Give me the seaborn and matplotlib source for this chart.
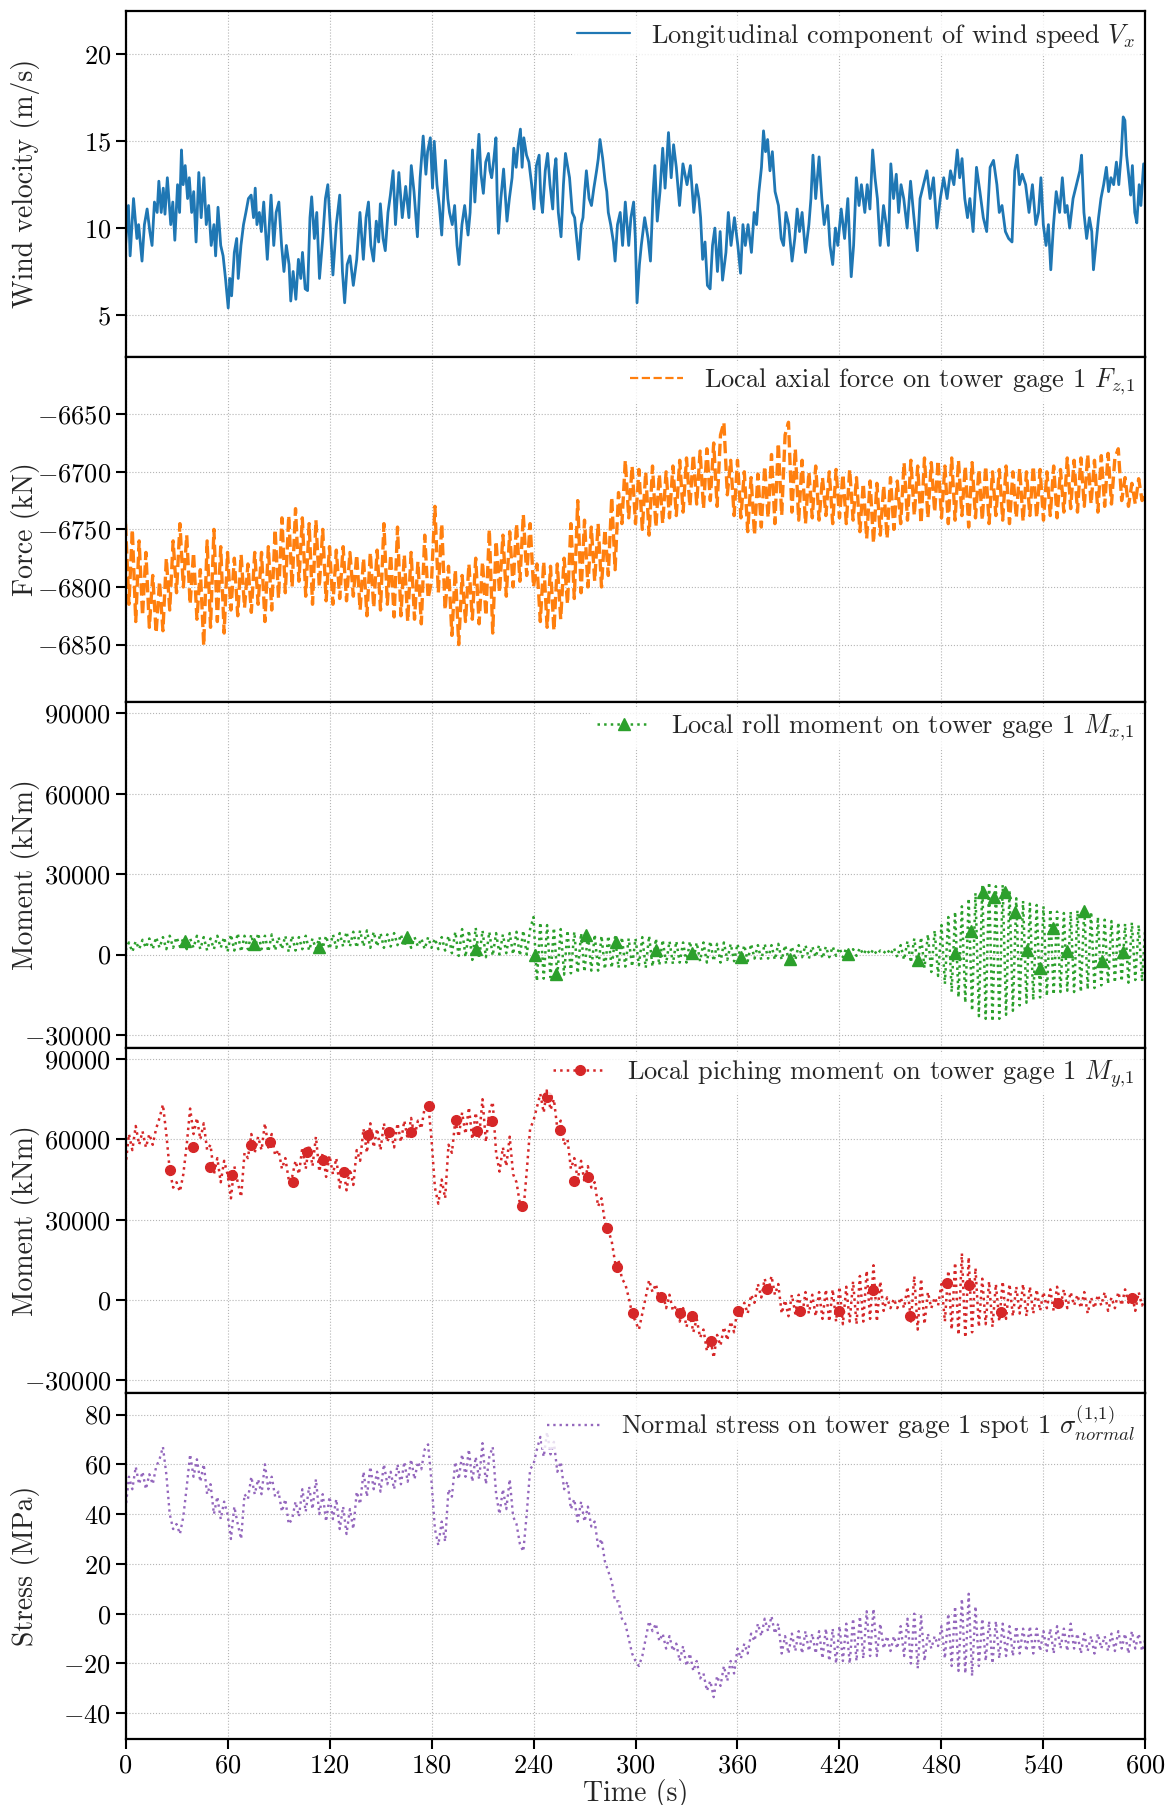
import numpy as np
import pandas as pd
import seaborn as sns
import matplotlib
matplotlib.use("Agg")
import matplotlib.pyplot as plt
from matplotlib.lines import Line2D

# ---------------- data ----------------
# Panel 1: longitudinal wind speed (time s, value m/s)
wind_t = [0, 1.7, 2.7, 4.7, 6.7, 7.7, 9.7, 11.1, 12.7, 14.3, 15.6, 17.0, 18.6, 19.6, 21.0, 22.2, 23.2, 24.6, 26.6, 27.8,
          29.0, 30.6, 31.8, 32.9, 33.9, 35.1, 36.5, 37.5, 38.9, 40.1, 41.5, 43.1, 44.5, 46.1, 47.5, 48.9, 50.4, 52.0, 53.0, 54.4,
          56.0, 57.4, 58.8, 60.4, 61.4, 62.4, 64.0, 65.4, 66.3, 67.9, 69.4, 70.8, 72.3, 73.9, 75.3, 76.3, 77.3, 78.7, 79.9, 81.3,
          83.4, 85.6, 87.2, 88.6, 90.2, 91.8, 93.2, 94.6, 96.2, 97.2, 98.6, 100.2, 101.7, 103.1, 104.1, 105.7, 107.1, 108.5, 109.5, 111.1,
          112.5, 114.1, 116.0, 117.6, 119.0, 120.4, 122.0, 124.0, 126.0, 127.6, 128.9, 130.4, 132.0, 134.0, 136.0, 137.9, 139.9, 141.5, 142.9, 144.3,
          145.9, 147.5, 148.9, 149.9, 151.5, 152.8, 154.4, 155.8, 157.4, 158.8, 160.8, 162.8, 164.8, 166.7, 168.1, 169.7, 171.7, 173.3, 175.1, 176.7,
          177.7, 179.3, 180.6, 181.6, 183.2, 184.6, 186.0, 188.2, 189.6, 190.6, 192.2, 193.6, 195.0, 196.2, 197.9, 199.5, 201.5, 202.7, 204.1, 205.5,
          206.7, 207.9, 209.1, 210.5, 211.9, 213.5, 214.4, 215.4, 216.7, 217.9, 218.6, 219.4, 220.8, 222.4, 224.4, 225.8, 227.4, 228.4, 229.8, 231.0,
          232.3, 233.3, 234.3, 235.9, 237.3, 238.9, 240.3, 241.7, 243.3, 244.3, 245.3, 246.9, 248.3, 249.7, 251.3, 252.3, 253.2, 254.6, 256.2, 257.6,
          258.8, 260.2, 261.2, 262.8, 264.2, 266.6, 268.1, 269.1, 270.1, 271.1, 272.7, 274.1, 275.5, 277.1, 278.1, 279.1, 280.7, 282.1, 283.1, 284.0,
          285.4, 287.0, 288.0, 289.4, 291.0, 292.4, 294.0, 296.0, 297.3, 298.9, 299.9, 300.9, 302.3, 303.4, 305.4, 307.4, 308.8, 310.4, 311.4, 312.8,
          314.4, 316.0, 317.4, 319.4, 321.0, 322.4, 324.0, 325.9, 327.9, 330.3, 332.3, 334.3, 335.9, 337.3, 338.3, 339.5, 340.9, 342.3, 343.9, 345.3,
          346.7, 348.2, 349.8, 351.2, 353.2, 354.6, 356.2, 358.2, 360.2, 361.8, 363.2, 364.6, 366.2, 368.2, 369.8, 371.2, 372.5, 374.1, 375.3, 376.5,
          377.7, 379.1, 380.5, 382.1, 384.1, 385.7, 387.1, 388.5, 390.1, 392.1, 393.7, 395.1, 396.5, 398.0, 400.0, 402.0, 403.2, 404.4, 406.0, 408.0,
          409.6, 411.0, 413.0, 414.4, 416.0, 417.6, 419.0, 421.0, 423.0, 424.9, 426.9, 428.3, 429.9, 431.5, 432.9, 434.9, 436.3, 437.9, 439.5, 440.9,
          442.3, 443.9, 445.9, 447.5, 448.8, 450.2, 451.8, 453.4, 454.8, 456.2, 457.8, 459.8, 461.8, 463.8, 465.8, 467.4, 469.4, 471.4, 473.3, 475.3,
          477.3, 479.3, 481.3, 483.3, 485.3, 487.3, 489.3, 490.7, 492.1, 493.7, 495.3, 496.7, 498.6, 500.6, 502.6, 504.6, 506.6, 508.6, 510.6, 512.6,
          514.0, 515.6, 517.6, 519.5, 521.5, 523.1, 524.5, 525.9, 527.5, 529.5, 531.5, 533.5, 535.5, 537.1, 538.5, 539.9, 541.5, 542.9, 544.3, 545.9,
          547.5, 549.5, 551.1, 552.7, 553.9, 555.4, 557.4, 559.4, 561.4, 562.4, 563.8, 565.4, 567.0, 568.4, 569.4, 571.0, 572.4, 573.8, 575.4, 577.0,
          578.3, 579.7, 581.3, 582.9, 584.3, 585.7, 586.9, 587.9, 588.9, 590.3, 591.3, 592.3, 593.7, 594.9, 596.3, 597.3, 598.9, 600.0]
wind_v = [9.0, 11.3, 8.4, 11.7, 9.4, 10.2, 8.1, 10.2, 11.1, 9.8, 9.0, 11.5, 10.9, 12.7, 10.9, 12.3, 10.8, 12.9, 10.2, 11.5,
          9.3, 12.5, 10.9, 14.5, 12.5, 13.6, 11.7, 12.9, 10.9, 12.1, 9.2, 13.2, 10.6, 12.9, 10.2, 11.3, 9.0, 10.2, 8.4, 11.2,
          9.0, 8.4, 7.1, 5.4, 7.1, 6.1, 8.6, 9.4, 7.1, 9.0, 10.2, 10.9, 11.7, 11.9, 10.6, 12.3, 10.2, 10.9, 9.8, 11.5,
          8.2, 11.9, 9.0, 10.9, 11.5, 9.0, 7.5, 9.0, 7.9, 5.8, 7.5, 5.9, 8.2, 7.1, 8.6, 6.5, 6.4, 10.6, 11.8, 9.4,
          10.9, 7.1, 9.4, 11.7, 12.5, 10.2, 7.3, 10.2, 11.9, 7.5, 5.7, 7.9, 8.4, 6.7, 8.2, 10.9, 8.2, 10.6, 11.5, 9.0,
          8.1, 10.4, 9.2, 11.4, 9.4, 8.7, 10.9, 11.9, 13.3, 10.2, 13.2, 10.6, 12.4, 10.6, 13.6, 12.1, 9.5, 12.9, 15.3, 13.1,
          14.4, 15.2, 12.3, 15.0, 12.5, 11.3, 9.6, 13.9, 11.7, 10.9, 10.2, 11.3, 9.0, 7.9, 10.2, 11.3, 9.6, 10.9, 14.5, 11.5,
          13.6, 15.4, 13.1, 12.0, 13.8, 14.3, 13.3, 12.9, 14.0, 15.2, 11.9, 9.7, 11.7, 13.4, 10.4, 11.7, 12.9, 14.6, 13.5, 14.8,
          15.7, 13.5, 15.2, 14.2, 13.8, 12.5, 11.1, 13.6, 14.2, 11.7, 10.9, 13.3, 14.3, 12.5, 11.1, 13.3, 14.0, 10.9, 9.5, 12.5,
          14.3, 13.5, 12.9, 10.9, 10.6, 8.2, 10.2, 10.6, 12.1, 13.3, 11.7, 11.3, 12.3, 13.3, 14.0, 15.1, 14.0, 12.7, 12.1, 10.9,
          10.2, 9.2, 8.1, 10.2, 10.9, 9.0, 11.5, 9.0, 10.6, 11.5, 9.4, 5.7, 7.9, 9.0, 10.6, 9.4, 8.1, 12.1, 13.6, 10.4,
          12.1, 14.6, 12.3, 15.5, 12.9, 14.8, 13.5, 11.3, 13.7, 12.5, 13.6, 10.9, 12.5, 11.7, 10.6, 8.2, 9.2, 6.7, 6.5, 9.0,
          10.0, 7.5, 9.8, 7.0, 8.6, 10.9, 9.0, 10.6, 9.0, 7.4, 10.2, 9.0, 10.2, 8.6, 10.9, 10.2, 12.0, 13.5, 15.6, 14.4,
          15.1, 13.3, 14.4, 12.1, 11.3, 9.4, 9.0, 10.9, 10.2, 8.1, 9.4, 11.1, 9.8, 10.9, 8.6, 10.2, 11.7, 14.2, 11.7, 14.1,
          11.7, 10.2, 11.3, 9.0, 7.9, 10.0, 9.0, 11.1, 9.4, 11.7, 7.2, 9.0, 12.9, 11.3, 12.5, 10.9, 12.5, 11.1, 14.5, 12.9,
          11.7, 9.0, 11.3, 10.2, 9.0, 13.7, 11.7, 13.1, 10.9, 12.5, 11.7, 10.0, 12.7, 10.6, 8.7, 11.7, 12.5, 13.3, 11.7, 12.9,
          10.0, 11.7, 12.9, 11.7, 13.3, 12.5, 14.5, 12.9, 14.0, 11.7, 10.6, 11.7, 9.8, 13.5, 12.1, 10.6, 9.8, 13.5, 13.9, 12.5,
          10.9, 11.3, 9.8, 9.4, 9.2, 13.3, 14.2, 12.5, 13.1, 12.5, 10.9, 12.5, 10.2, 10.9, 12.9, 10.2, 9.0, 10.2, 7.6, 10.2,
          12.1, 10.9, 12.9, 10.9, 11.3, 10.0, 11.7, 12.5, 13.3, 14.2, 10.9, 9.4, 10.6, 9.8, 7.6, 9.2, 10.6, 11.7, 12.5, 13.5,
          12.1, 12.9, 12.5, 13.8, 12.5, 14.2, 16.4, 16.2, 14.2, 12.9, 11.9, 13.6, 10.9, 10.3, 12.5, 11.3, 13.7, 12.9]

# Panels 2-5 are sampled every 2 s from 0 to 600 s
sample_t = list(range(0, 601, 2))

# Panel 2: local axial force (kN)
axial_force = [
    -6745, -6815, -6750, -6830, -6760, -6825, -6770, -6835, -6790, -6840,
    -6795, -6838, -6775, -6820, -6760, -6805, -6745, -6800, -6755, -6815,
    -6770, -6828, -6785, -6851, -6760, -6835, -6750, -6830, -6765, -6840,
    -6770, -6820, -6775, -6825, -6772, -6818, -6780, -6822, -6770, -6815,
    -6770, -6830, -6765, -6820, -6750, -6810, -6740, -6805, -6738, -6800,
    -6732, -6795, -6740, -6808, -6745, -6815, -6742, -6800, -6750, -6812,
    -6765, -6815, -6768, -6810, -6765, -6812, -6770, -6808, -6772, -6820,
    -6775, -6825, -6770, -6818, -6768, -6820, -6745, -6815, -6772, -6826,
    -6748, -6825, -6772, -6830, -6770, -6828, -6778, -6832, -6755, -6810,
    -6795, -6730, -6805, -6745, -6820, -6782, -6842, -6785, -6850, -6790,
    -6830, -6780, -6828, -6775, -6832, -6778, -6825, -6750, -6840, -6760,
    -6805, -6755, -6808, -6752, -6800, -6745, -6795, -6737, -6790, -6745,
    -6800, -6780, -6830, -6778, -6835, -6782, -6838, -6780, -6828, -6775,
    -6815, -6745, -6810, -6725, -6805, -6742, -6800, -6748, -6795, -6745,
    -6800, -6750, -6790, -6722, -6785, -6718, -6745, -6690, -6740, -6695,
    -6745, -6698, -6750, -6700, -6755, -6695, -6748, -6702, -6745, -6700,
    -6740, -6695, -6738, -6690, -6735, -6688, -6730, -6685, -6728, -6682,
    -6732, -6680, -6725, -6675, -6730, -6668, -6657, -6720, -6690, -6738,
    -6690, -6740, -6700, -6752, -6705, -6755, -6702, -6748, -6695, -6740,
    -6685, -6745, -6675, -6738, -6668, -6657, -6735, -6680, -6742, -6690,
    -6745, -6700, -6740, -6695, -6742, -6705, -6738, -6700, -6745, -6698,
    -6740, -6702, -6745, -6698, -6742, -6705, -6752, -6710, -6758, -6708,
    -6762, -6710, -6755, -6712, -6758, -6705, -6750, -6708, -6745, -6692,
    -6742, -6690, -6738, -6695, -6745, -6688, -6740, -6692, -6735, -6690,
    -6740, -6695, -6745, -6688, -6742, -6690, -6738, -6695, -6748, -6692,
    -6740, -6698, -6742, -6695, -6745, -6700, -6738, -6698, -6742, -6695,
    -6745, -6700, -6740, -6697, -6743, -6700, -6738, -6695, -6740, -6698,
    -6742, -6700, -6738, -6695, -6740, -6698, -6735, -6688, -6732, -6690,
    -6735, -6688, -6730, -6685, -6728, -6690, -6735, -6686, -6730, -6684,
    -6728, -6688, -6680, -6725, -6705, -6730, -6710, -6728, -6706, -6725,
    -6715]

# Panel 3: local roll moment (thousands of kNm)
roll_moment_k = [
    1.5, 4.5, 1.0, 5.0, 2.0, 5.5, 2.5, 6.0, 2.0, 6.5,
    2.5, 6.5, 2.0, 7.0, 2.5, 6.5, 3.0, 6.0, 2.0, 6.0,
    2.5, 7.0, 2.0, 6.5, 1.5, 6.0, 2.0, 7.0, 2.5, 6.5,
    1.0, 7.5, 1.5, 8.0, 1.0, 7.0, 2.0, 7.5, 1.5, 8.0,
    2.0, 7.0, 1.0, 7.5, 1.5, 6.5, 2.0, 7.0, 1.0, 7.0,
    1.5, 6.5, 2.0, 7.0, 1.5, 6.0, 2.0, 6.5, 2.5, 7.0,
    2.0, 7.5, 2.5, 8.0, 3.0, 8.5, 3.0, 8.5, 2.5, 9.0,
    3.0, 9.0, 2.5, 8.5, 3.0, 8.0, 2.5, 7.5, 3.0, 8.0,
    3.5, 7.5, 3.0, 7.0, 2.5, 6.5, 3.0, 6.0, 2.0, 6.5,
    2.5, 6.0, 2.0, 6.5, 1.5, 7.0, 0.5, 8.5, -0.5, 9.5,
    -1.0, 9.0, -2.0, 10.0, -1.5, 9.0, -1.0, 8.5, -0.5, 8.0,
    0.0, 7.5, 0.5, 8.0, 0.0, 8.5, -0.5, 9.0, 0.0, 9.5,
    14.0, -10.0, 12.0, -9.0, 11.0, -8.5, 10.0, -8.0, 9.5, -7.5,
    9.0, -7.0, 8.5, -7.0, 8.0, -6.5, 8.0, -6.0, 7.5, -6.0,
    7.0, -5.5, 7.0, -5.0, 6.5, -5.0, 6.5, -4.5, 6.0, -4.5,
    6.0, -4.0, 6.5, -5.0, 7.0, -4.5, 6.0, -4.0, 5.5, -3.5,
    5.0, -3.5, 5.0, -3.0, 4.5, -3.0, 5.0, -2.5, 4.5, -2.5,
    4.5, -3.0, 5.0, -2.5, 4.0, -3.0, 4.5, -2.0, 4.0, -2.5,
    4.0, -2.0, 3.5, -2.5, 4.0, -1.5, 3.5, -2.0, 4.0, -1.5,
    3.5, -2.0, 4.0, -2.0, 3.5, -1.5, 3.0, -2.0, 3.5, -1.0,
    3.5, -1.5, 3.0, -1.0, 3.5, -1.5, 3.0, -1.0, 3.0, -0.5,
    2.5, -1.0, 2.5, -0.5, 2.0, -0.5, 2.5, 0.0, 2.0, 0.0,
    2.0, 0.0, 1.5, 0.5, 2.0, 0.0, 2.5, -1.0, 3.5, -2.0,
    5.0, -3.0, 6.0, -4.0, 6.5, -5.0, 7.5, -6.5, 9.0, -8.0,
    11.0, -11.0, 14.0, -14.0, 16.0, -16.0, 18.0, -18.0, 21.0, -21.0,
    23.0, -23.0, 26.0, -24.0, 27.0, -25.0, 25.5, -24.0, 26.0, -22.5,
    24.0, -21.0, 21.0, -19.0, 20.0, -18.0, 19.0, -17.0, 18.5, -16.0,
    18.0, -15.5, 17.0, -15.0, 16.0, -14.0, 15.5, -13.5, 16.0, -14.0,
    16.5, -14.0, 17.5, -13.0, 16.0, -12.5, 14.0, -11.5, 13.0, -11.0,
    12.5, -10.5, 12.0, -10.0, 11.5, -10.5, 12.0, -9.5, 11.0, -10.0,
    11.5]
roll_marker_t = [35.1, 75.3, 113.7, 165.3, 206.1, 240.7, 253.4, 270.7, 288.8, 311.8, 333.3, 362.2, 390.7, 424.9,
                 466.0, 487.9, 497.6, 504.6, 511.0, 517.2, 523.5, 530.5, 538.1, 545.5, 553.6, 563.8, 574.4, 586.7]
roll_marker_k = [4.9, 3.9, 2.9, 6.4, 2.0, -0.3, -7.2, 7.4, 4.8, 1.6, 0.5, -1.1, -1.5, 0.1,
                 -2.0, 0.5, 8.7, 23.3, 21.5, 23.3, 15.7, 1.6, -4.9, 9.8, 1.4, 16.1, -2.4, 0.8]

# Panel 4: local pitching moment (thousands of kNm)
pitch_moment_k = [
    50, 62, 56, 65, 58, 63, 57, 62, 58, 64,
    68, 73, 62, 48.5, 42, 44, 40.5, 47, 58, 71.5,
    62, 68, 60, 66, 56, 58, 47, 53, 44, 52,
    47, 38, 50, 44, 38.5, 55, 53, 62, 55, 61,
    56, 66, 57, 62, 54, 56, 49, 53, 45, 46,
    52, 47, 57, 49, 58, 50, 61, 48, 55, 46,
    54, 47, 53, 42, 50, 41, 49, 43, 56, 52,
    64, 55, 66, 57, 64, 56, 66, 59, 63, 57,
    66, 59, 67, 60, 68, 61, 67, 64, 72, 74,
    60, 42, 36, 45, 38, 58, 55, 67, 61, 70,
    62, 72, 60, 70, 61, 75, 59, 70, 74, 55,
    48, 57, 50, 61, 47, 44, 36, 33, 48, 64,
    67, 72, 77, 70, 79, 71, 75, 64, 67, 58,
    60, 49, 53, 45, 52, 44, 50, 42, 44, 35,
    38, 29, 26, 22, 14, 15, 8, 6, 1, -5,
    -8, -11, -5, 1, 7.5, 3, 6, 0, 3, -3,
    2, -4, -2, -8, -3, -10, -5, -12, -7, -14,
    -11, -19, -14, -21.5, -13, -17, -10, -15, -8, -12,
    -3, -7, -1, -5, 2, -1, 6, 1, 8, 3,
    9, 2, 6, -5, 0, -6, 2, -5, 2, -6,
    3, -5, 2, -6, 3, -7, 4, -8, 4, -8,
    5, -9, 5, -8, 7, -9, 9, -8, 11, -7,
    13, -8, 7, -4, 1, -3, 0.5, -3, 1, -3,
    5, -8, 9, -11, 8, -9, 3, -3, 1, -2,
    6, -8, 11, -11, 14, -13, 17.5, -14, 16, -12,
    12, -10, 8, -9, 7, -10, 6, -8, 7, -7,
    6, -6, 5, -5, 6, -6, 5, -5, 4, -4,
    3, -3, 4, -4, 5, -2, 4, -3, 3, -2,
    2, -3, 3, -5, 1, -3, 2, -2, 3, -4,
    1, -3, 3, -2, 4, -1, 2, -4, 3, -2,
    1]
pitch_marker_t = [26.0, 39.9, 49.8, 62.4, 73.9, 85.2, 98.6, 106.7, 116.4, 128.4, 142.5, 155.2, 167.7, 178.5,
                  194.2, 206.5, 215.8, 233.0, 247.8, 255.6, 263.6, 272.1, 283.0, 289.0, 298.6, 314.8, 326.3,
                  333.3, 344.3, 360.2, 377.1, 396.5, 420.0, 439.9, 461.2, 483.1, 496.1, 515.0, 548.8, 591.9]
pitch_marker_k = [48.6, 57.0, 49.8, 46.7, 58.0, 59.0, 44.2, 55.2, 52.3, 47.7, 61.5, 62.7, 62.7, 72.4,
                  67.4, 63.2, 66.8, 35.1, 75.9, 63.6, 44.4, 46.0, 26.9, 12.2, -4.8, 1.3, -4.8,
                  -5.8, -15.4, -4.1, 4.3, -3.9, -3.9, 3.6, -5.8, 6.3, 5.5, -4.4, -1.0, 0.9]

# Panel 5: normal stress (MPa)
normal_stress = [
    42, 55, 50, 59, 52, 57, 50, 56, 52, 59,
    62, 67, 56, 40, 34, 36, 32, 39, 51, 64,
    55, 62, 53, 60, 48, 52, 40, 47, 38, 45,
    40, 30, 43, 36, 30, 48, 46, 55, 48, 54,
    48, 60, 50, 55, 47, 49, 41, 46, 36, 38,
    45, 39, 50, 41, 51, 42, 54, 40, 48, 37,
    47, 38, 46, 34, 43, 32, 42, 34, 49, 44,
    57, 47, 59, 50, 57, 49, 60, 52, 57, 50,
    60, 52, 61, 53, 62, 54, 61, 58, 66, 68,
    53, 34, 27.5, 37, 29, 50, 47, 61, 54, 64,
    55, 66, 53, 63, 54, 68.5, 52, 63, 67, 48,
    40, 50, 42, 54, 39, 36, 28, 25, 40, 58,
    60, 66, 71, 63, 73, 64, 69, 57, 61, 50,
    53, 42, 46, 37, 45, 37, 43, 35, 37, 27,
    30, 21, 17, 13, 5, 5, -2, -4, -10, -16,
    -19, -21, -17, -10, -3, -7, -4, -11, -8, -14,
    -9, -15, -12, -19, -13, -21, -16, -23, -19, -26,
    -24, -31, -27, -33.5, -25, -29, -21, -27, -19, -24,
    -14, -18, -12, -16, -8, -11, -4, -9, -2, -7,
    -1, -8, -4, -16, -9, -16, -8, -15, -7, -16,
    -7, -15, -8, -16, -7, -18, -6, -19, -6, -20,
    -5, -19, -4, -20, -2, -19, -1, -18, 1, -17,
    2, -17, -4, -14, -9, -15, -9, -14, -5, -17,
    -2, -20, 0, -22, -1, -19, -8, -14, -9, -13,
    -5, -18, 0, -21, 3, -23, 6, -24, 8, -25,
    3, -21, -2, -19, -3, -20, -3, -18, -4, -17,
    -5, -17, -5, -16, -6, -15, -5, -16, -6, -15,
    -7, -15, -6, -16, -5, -14, -6, -15, -4, -14,
    -8, -16, -8, -15, -9, -16, -8, -14, -9, -15,
    -8, -15, -7, -14, -8, -16, -7, -14, -8, -15,
    -10]

x_ticks = [0, 60, 120, 180, 240, 300, 360, 420, 480, 540, 600]
y_labels = ["Wind velocity (m/s)", "Force (kN)", "Moment (kNm)", "Moment (kNm)", "Stress (MPa)"]
legend_labels = [r"Longitudinal component of wind speed $V_x$",
                 r"Local axial force on tower gage 1 $F_{z,\!1}$",
                 r"Local roll moment on tower gage 1 $M_{x,\!1}$",
                 r"Local piching moment on tower gage 1 $M_{y,\!1}$",
                 r"Normal stress on tower gage 1 spot 1 $\sigma_{normal}^{(1,\!1)}$"]
y_ticks = [[5, 10, 15, 20],
           [-6850, -6800, -6750, -6700, -6650],
           [-30000, 0, 30000, 60000, 90000],
           [-30000, 0, 30000, 60000, 90000],
           [-40, -20, 0, 20, 40, 60, 80]]

# ---------------- styling ----------------
sns.set_theme(style="ticks")
plt.rcParams.update({
    "font.family": "serif",
    "font.serif": ["cmr10", "DejaVu Serif"],
    "mathtext.fontset": "cm",
    "axes.formatter.use_mathtext": True,
    "font.size": 20,
    "axes.labelsize": 20,
    "xtick.labelsize": 19,
    "ytick.labelsize": 19,
    "legend.fontsize": 19,
    "axes.edgecolor": "black",
    "axes.linewidth": 1.6,
    "xtick.color": "black",
    "ytick.color": "black",
    "xtick.major.size": 7,
    "ytick.major.size": 7,
    "xtick.major.width": 1.5,
    "ytick.major.width": 1.5,
})

colors = ["#1f77b4", "#ff7f0e", "#2ca02c", "#d62728", "#9467bd"]
ylims = [(2.6, 22.5), (-6900, -6600), (-34800, 94200), (-34800, 94200), (-50.3, 88.5)]

fig, axes = plt.subplots(5, 1, sharex=True, figsize=(11.71, 18.05), dpi=100)
fig.subplots_adjust(left=0.1072, right=0.9782, top=0.9939, bottom=0.0366, hspace=0)

df_wind = pd.DataFrame({"t": wind_t, "v": wind_v})
df_s = pd.DataFrame({"t": sample_t,
                     "force": axial_force,
                     "roll": np.array(roll_moment_k) * 1000.0,
                     "pitch": np.array(pitch_moment_k) * 1000.0,
                     "stress": normal_stress})

common = dict(estimator=None, sort=False, errorbar=None, legend=False)
sns.lineplot(data=df_wind, x="t", y="v", ax=axes[0], color=colors[0], lw=2.0, linestyle="-", **common)
sns.lineplot(data=df_s, x="t", y="force", ax=axes[1], color=colors[1], lw=2.4, linestyle="--", **common)
sns.lineplot(data=df_s, x="t", y="roll", ax=axes[2], color=colors[2], lw=1.8, linestyle=":", **common)
axes[2].plot(roll_marker_t, np.array(roll_marker_k) * 1000.0, ls="none", marker="^", ms=8, color=colors[2])
sns.lineplot(data=df_s, x="t", y="pitch", ax=axes[3], color=colors[3], lw=1.8, linestyle=":", **common)
axes[3].plot(pitch_marker_t, np.array(pitch_marker_k) * 1000.0, ls="none", marker="o", ms=7, color=colors[3])
sns.lineplot(data=df_s, x="t", y="stress", ax=axes[4], color=colors[4], lw=1.7, linestyle=":", **common)

handles = [
    Line2D([], [], color=colors[0], lw=1.6, ls="-"),
    Line2D([], [], color=colors[1], lw=1.6, ls="--"),
    Line2D([], [], color=colors[2], lw=1.8, ls=":", marker="^", ms=8),
    Line2D([], [], color=colors[3], lw=1.8, ls=":", marker="o", ms=7),
    Line2D([], [], color=colors[4], lw=1.7, ls=":"),
]

for i, ax in enumerate(axes):
    ax.set_xlim(0, 600)
    ax.set_ylim(*ylims[i])
    ax.set_yticks(y_ticks[i])
    ax.set_xticks(x_ticks)
    ax.grid(True, ls=":", lw=0.8, color="#b5b5b5")
    ax.set_axisbelow(True)
    ax.set_ylabel(y_labels[i])
    ax.yaxis.set_label_coords(-0.084, 0.5)
    ax.set_xlabel("")
    for sp in ax.spines.values():
        sp.set_visible(True)
        sp.set_color("black")
        sp.set_linewidth(1.6)
    ax.tick_params(axis="both", direction="out", length=7, width=1.5, colors="black")
    ax.ticklabel_format(axis="y", useOffset=False, style="plain")
    ax.legend(handles=[handles[i]], labels=[legend_labels[i]], loc="upper right",
              frameon=True, framealpha=0.8, facecolor="white", edgecolor="none",
              fancybox=False, handlelength=2.0, borderaxespad=0.2, borderpad=0.2)
    if i < 4:
        ax.tick_params(axis="x", length=0)

axes[4].set_xlabel("Time (s)", labelpad=1)

fig.savefig("out.png", dpi=100)
